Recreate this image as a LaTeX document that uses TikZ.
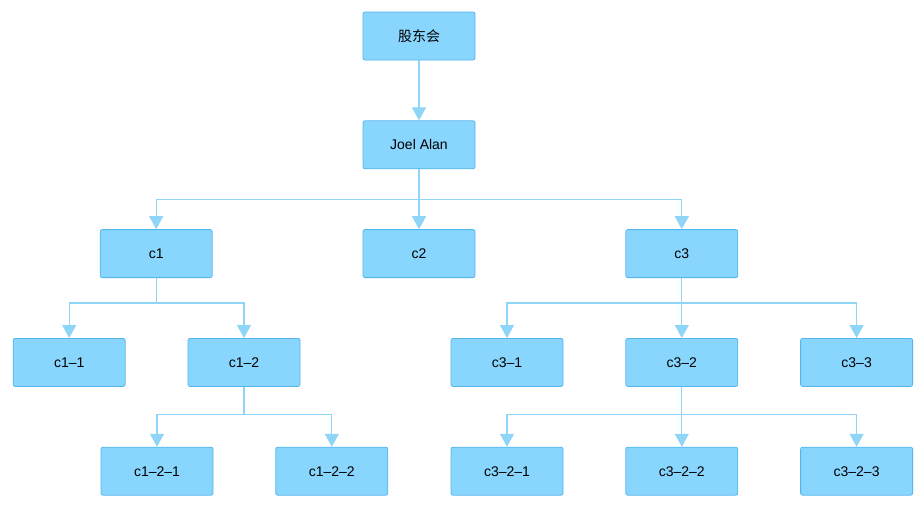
\documentclass[tikz,border=0pt]{standalone}
\usepackage{fontspec}
\setmainfont{Liberation Sans}
\newfontfamily\cjk{Noto Sans CJK SC}
\usepackage{tikz}
\usetikzlibrary{arrows.meta, positioning}

\definecolor{boxfill}{HTML}{88D5FD}
\definecolor{boxline}{HTML}{55B6EC}
\definecolor{linkline}{HTML}{8FD5F8}

\begin{document}
\begin{tikzpicture}[
    node distance=60pt and 62pt,
    box/.style={rectangle, draw=boxline, fill=boxfill, line width=0.8pt, minimum width=112pt, minimum height=48pt, rounded corners=2pt, font=\fontsize{14}{16}\selectfont},
    arrow/.style={-{Triangle[width=14pt,length=13pt]}, draw=linkline, line width=1.1pt}
]
    \useasboundingbox (0,0) rectangle (923pt,-506pt);

    % 顶层
    \node[box] (gdh) at (419pt,-36pt) {\cjk 股东会};
    \node[box, below=of gdh] (joel) {Joel Alan};

    % 第二层
    \node[box, below=of joel] (c2) {c2};
    \node[box, left=150pt of c2] (c1) {c1};
    \node[box, right=150pt of c2] (c3) {c3};

    % 第三层
    \node[box, below=of c1, xshift=-87pt] (c11) {c1--1};
    \node[box, right=of c11] (c12) {c1--2};
    \node[box, below=of c3] (c32) {c3--2};
    \node[box, left=of c32] (c31) {c3--1};
    \node[box, right=of c32] (c33) {c3--3};

    % 第四层
    \node[box, below=of c12, xshift=-87pt] (c121) {c1--2--1};
    \node[box, right=of c121] (c122) {c1--2--2};
    \node[box, below=of c32] (c322) {c3--2--2};
    \node[box, left=of c322] (c321) {c3--2--1};
    \node[box, right=of c322] (c323) {c3--2--3};

    % 连接箭头
    \draw[arrow] (gdh) -- (joel);
    \draw[arrow] (joel.south) -- ++(0,-30pt) -| (c1.north);
    \draw[arrow] (joel) -- (c2);
    \draw[arrow] (joel.south) -- ++(0,-30pt) -| (c3.north);

    \draw[arrow] (c1.south) -- ++(0,-25pt) -| (c11.north);
    \draw[arrow] (c1.south) -- ++(0,-25pt) -| (c12.north);
    \draw[arrow] (c3.south) -- ++(0,-25pt) -| (c31.north);
    \draw[arrow] (c3) -- (c32);
    \draw[arrow] (c3.south) -- ++(0,-25pt) -| (c33.north);

    \draw[arrow] (c12.south) -- ++(0,-28pt) -| (c121.north);
    \draw[arrow] (c12.south) -- ++(0,-28pt) -| (c122.north);
    \draw[arrow] (c32.south) -- ++(0,-28pt) -| (c321.north);
    \draw[arrow] (c32) -- (c322);
    \draw[arrow] (c32.south) -- ++(0,-28pt) -| (c323.north);
\end{tikzpicture}
\end{document}
